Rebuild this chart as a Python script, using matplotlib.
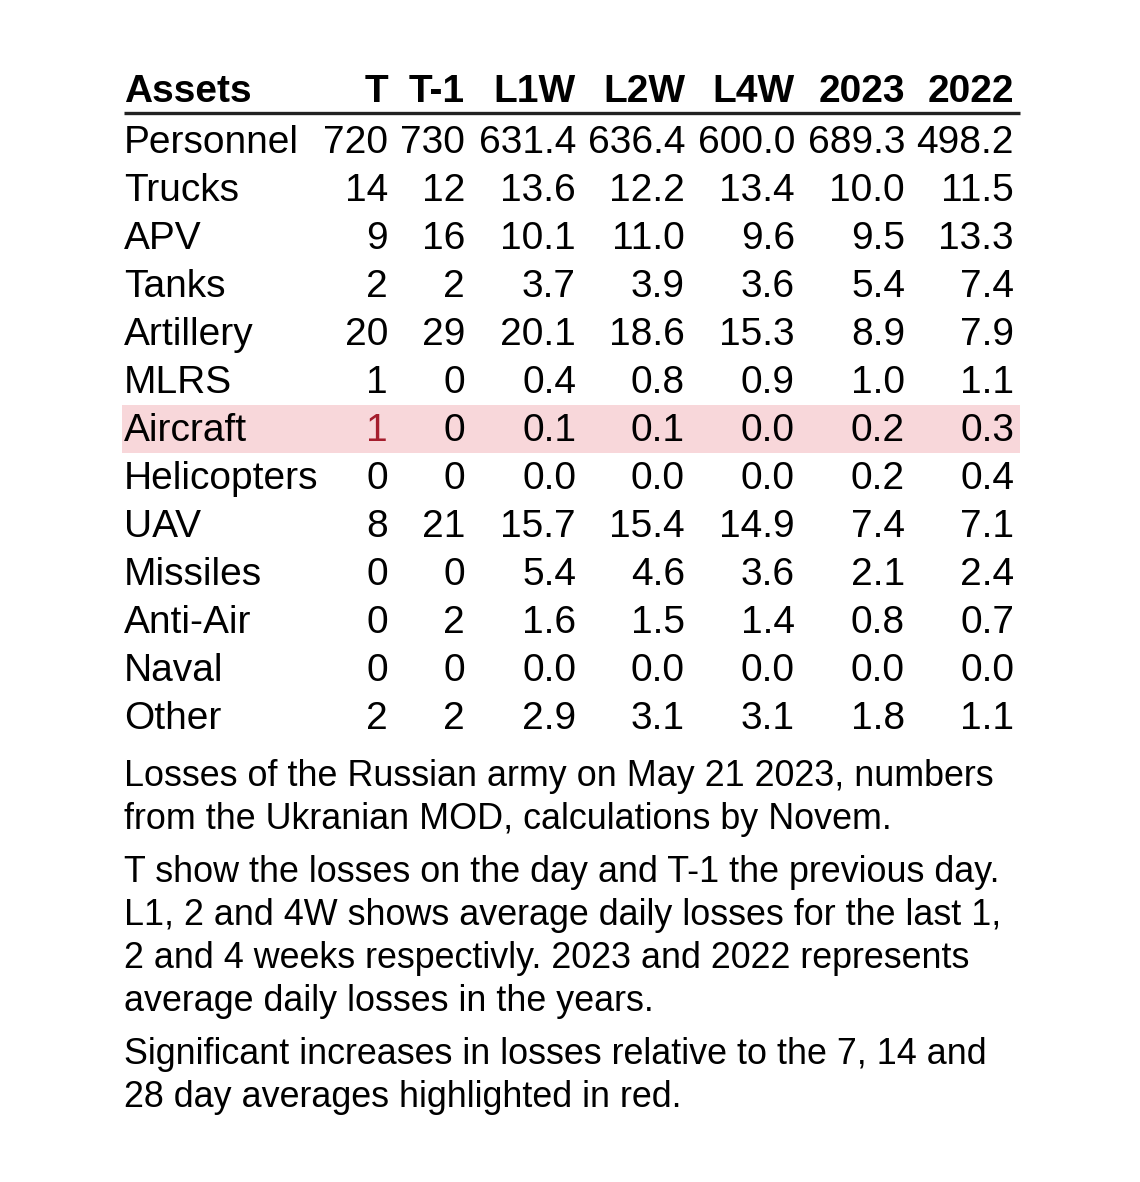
import matplotlib.pyplot as plt
from matplotlib.patches import Rectangle

#--------data begin--------
columns = ["T", "T-1", "L1W", "L2W", "L4W", "2023", "2022"]
assets = ["Personnel", "Trucks", "APV", "Tanks", "Artillery", "MLRS", "Aircraft",
          "Helicopters", "UAV", "Missiles", "Anti-Air", "Naval", "Other"]
t_day = [720, 14, 9, 2, 20, 1, 1, 0, 8, 0, 0, 0, 2]
t_prev = [730, 12, 16, 2, 29, 0, 0, 0, 21, 0, 2, 0, 2]
l1w = [631.4, 13.6, 10.1, 3.7, 20.1, 0.4, 0.1, 0.0, 15.7, 5.4, 1.6, 0.0, 2.9]
l2w = [636.4, 12.2, 11.0, 3.9, 18.6, 0.8, 0.1, 0.0, 15.4, 4.6, 1.5, 0.0, 3.1]
l4w = [600.0, 13.4, 9.6, 3.6, 15.3, 0.9, 0.0, 0.0, 14.9, 3.6, 1.4, 0.0, 3.1]
avg_2023 = [689.3, 10.0, 9.5, 5.4, 8.9, 1.0, 0.2, 0.2, 7.4, 2.1, 0.8, 0.0, 1.8]
avg_2022 = [498.2, 11.5, 13.3, 7.4, 7.9, 1.1, 0.3, 0.4, 7.1, 2.4, 0.7, 0.0, 1.1]
highlight_rows = ["Aircraft"]
highlight_cells = [("Aircraft", "T")]
notes = [
    "Losses of the Russian army on May 21 2023, numbers\nfrom the Ukranian MOD, calculations by Novem.",
    "T show the losses on the day and T-1 the previous day.\nL1, 2 and 4W shows average daily losses for the last 1,\n2 and 4 weeks respectivly. 2023 and 2022 represents\naverage daily losses in the years.",
    "Significant increases in losses relative to the 7, 14 and\n28 day averages highlighted in red.",
]
#--------data end--------

#--------config begin--------
font = "Liberation Sans"
red_bg = "#f8d7da"
red_fg = "#a51d2d"
col_right = [388, 465, 576, 685, 795, 905, 1014]
left = 124
right = 1020
header_base = 102
first_base = 153
row_h = 48
#--------config end--------

plt.rcParams["font.family"] = font
fig = plt.figure(figsize=(11.4, 11.82), dpi=100)
ax = fig.add_axes([0, 0, 1, 1])
ax.set_xlim(0, 1140)
ax.set_ylim(1182, 0)
ax.axis("off")

# header
ax.text(left, header_base, "Assets", fontsize=28, fontweight="bold", ha="left", va="baseline")
for name, x in zip(columns, col_right):
  ax.text(x, header_base, name, fontsize=28, fontweight="bold", ha="right", va="baseline")
ax.plot([left, right], [113, 113], color="#222222", lw=2.4, solid_capstyle="butt")

table = [t_day, t_prev, l1w, l2w, l4w, avg_2023, avg_2022]
for i, asset in enumerate(assets):
  base = first_base + i * row_h
  if asset in highlight_rows:
    ax.add_patch(Rectangle((left - 2, base - 36), right - left + 2, row_h, color=red_bg, lw=0, zorder=0))
  ax.text(left, base, asset, fontsize=28, ha="left", va="baseline")
  for j, (name, x) in enumerate(zip(columns, col_right)):
    v = table[j][i]
    s = str(v) if j < 2 else "%.1f" % v
    c = red_fg if (asset, name) in highlight_cells else "black"
    ax.text(x, base, s, fontsize=28, ha="right", va="baseline", color=c)

# notes
y = 786
for para in notes:
  lines = para.split("\n")
  for k, line in enumerate(lines):
    ax.text(left, y, line, fontsize=25.8, ha="left", va="baseline")
    y += 43
  y += 10

plt.savefig("out.png", dpi=100)
